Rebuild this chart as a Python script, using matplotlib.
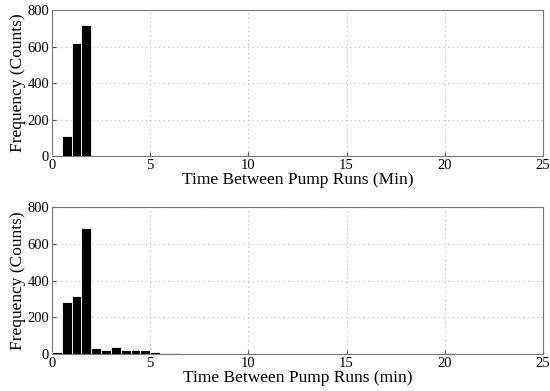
import numpy as np
import matplotlib
matplotlib.use('Agg')
import matplotlib.pyplot as plt

plt.rcParams['font.family'] = ['Liberation Serif', 'DejaVu Serif']

# Bin edges are 0.5 min wide, starting at 0
bin_width = 0.5
top_counts = [5, 110, 620, 720]
bottom_counts = [10, 285, 315, 685, 30, 20, 38, 20, 20, 20, 12, 3, 3, 1, 1, 2]

xlabels = ['Time Between Pump Runs (Min)', 'Time Between Pump Runs (min)']
ylabel = 'Frequency (Counts)'
xticks = [0, 5, 10, 15, 20, 25]
yticks = [0, 200, 400, 600, 800]

fig = plt.figure(figsize=(5.5, 3.91), dpi=100)
ax1 = fig.add_axes([0.0945, 0.601, 0.8925, 0.373])
ax2 = fig.add_axes([0.0945, 0.0946, 0.8925, 0.376])

for ax, counts, xl in [(ax1, top_counts, xlabels[0]), (ax2, bottom_counts, xlabels[1])]:
    centers = bin_width * (np.arange(len(counts)) + 0.5)
    ax.bar(centers, counts, width=bin_width, color='black', edgecolor='white', linewidth=0.6, zorder=3)
    ax.set_xlim(0, 25)
    ax.set_ylim(0, 800)
    ax.set_xticks(xticks)
    ax.set_yticks(yticks)
    ax.grid(True, linestyle=(0, (1, 3)), color='#bbbbbb', linewidth=0.8)
    ax.tick_params(direction='in', length=3, labelsize=10.5, pad=2, color='#555555')
    for s in ax.spines.values():
        s.set_color('#777777')
    ax.set_xlabel(xl, fontsize=12.5, labelpad=0)
    ax.set_ylabel(ylabel, fontsize=12.5, labelpad=1)

fig.savefig('out.png', dpi=100)
